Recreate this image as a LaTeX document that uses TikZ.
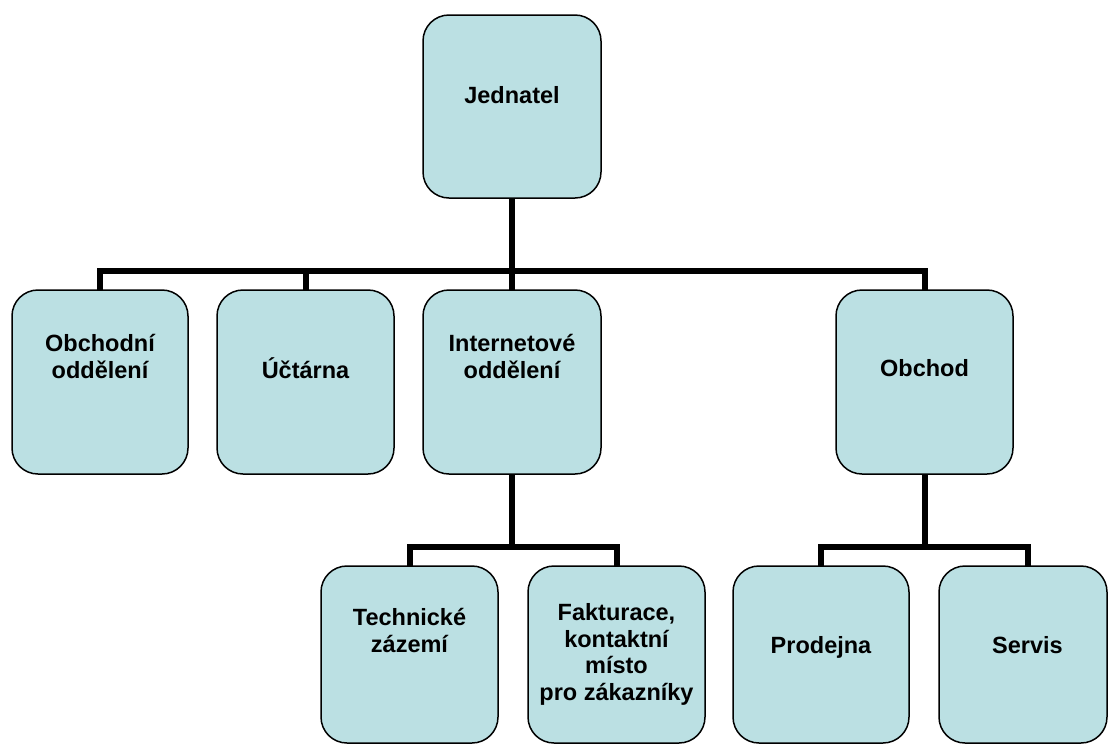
\documentclass[tikz,border=0pt]{standalone}
\usepackage{fontspec}
\setmainfont{Liberation Sans}
\definecolor{unitfill}{RGB}{187,224,227}
\begin{document}
\begin{tikzpicture}[x=1pt,y=-1pt,
  unit/.style={draw=black, line width=1.5pt, fill=unitfill, rounded corners=26pt,
    anchor=north west, inner sep=0pt, outer sep=0pt},
  lbl/.style={font=\bfseries\fontsize{23.5}{26.5}\selectfont, align=center,
    anchor=base, inner sep=0pt},
  conn/.style={draw=black, line width=6pt, line join=miter}]
\useasboundingbox (0,0) rectangle (1110,745);

% organisation units
\node[unit, minimum width=178pt, minimum height=183pt] (jed)  at (423,15)  {};
\node[unit, minimum width=176pt, minimum height=184pt] (obd)  at (12,290)  {};
\node[unit, minimum width=177pt, minimum height=184pt] (uct)  at (217,290) {};
\node[unit, minimum width=178pt, minimum height=184pt] (int)  at (423,290) {};
\node[unit, minimum width=177pt, minimum height=184pt] (obc)  at (836,290) {};
\node[unit, minimum width=177pt, minimum height=177pt] (tech) at (321,566) {};
\node[unit, minimum width=177pt, minimum height=177pt] (fakt) at (528,566) {};
\node[unit, minimum width=176pt, minimum height=177pt] (prod) at (733,566) {};
\node[unit, minimum width=168pt, minimum height=177pt] (serv) at (939,566) {};

% bus lines of the three levels
\coordinate (b1) at (512,271);
\coordinate (b2) at (512,547);
\coordinate (b3) at (924.5,547);
\coordinate (servdrop) at (1028,566);

\draw[conn] (jed.south) -- (jed.south |- b1);
\draw[conn] (obd.north) |- (b1) -| (obc.north);
\draw[conn] (uct.north) -- (uct.north |- b1);
\draw[conn] (int.north) -- (int.north |- b1);

\draw[conn] (int.south) -- (int.south |- b2);
\draw[conn] (tech.north) |- (b2) -| (fakt.north);

\draw[conn] (obc.south) -- (obc.south |- b3);
\draw[conn] (prod.north) |- (b3) -| (servdrop);

% unit names (anchored at the baseline of the last line)
\node[lbl] (tjed)  at (512,103)   {Jednatel};
\node[lbl] (tobd)  at (100,378)   {Obchodní\\oddělení};
\node[lbl] (tuct)  at (305.5,378) {Účtárna};
\node[lbl] (tint)  at (512,378)   {Internetové\\oddělení};
\node[lbl] (tobc)  at (924.5,376) {Obchod};
\node[lbl] (ttech) at (409.5,652) {Technické\\zázemí};
\node[lbl] (tfakt) at (616.5,700) {Fakturace,\\kontaktní\\místo\\pro zákazníky};
\node[lbl] (tprod) at (821,653)   {Prodejna};
\node[lbl] (tserv) at (1027.5,653) {Servis};
\end{tikzpicture}
\end{document}
